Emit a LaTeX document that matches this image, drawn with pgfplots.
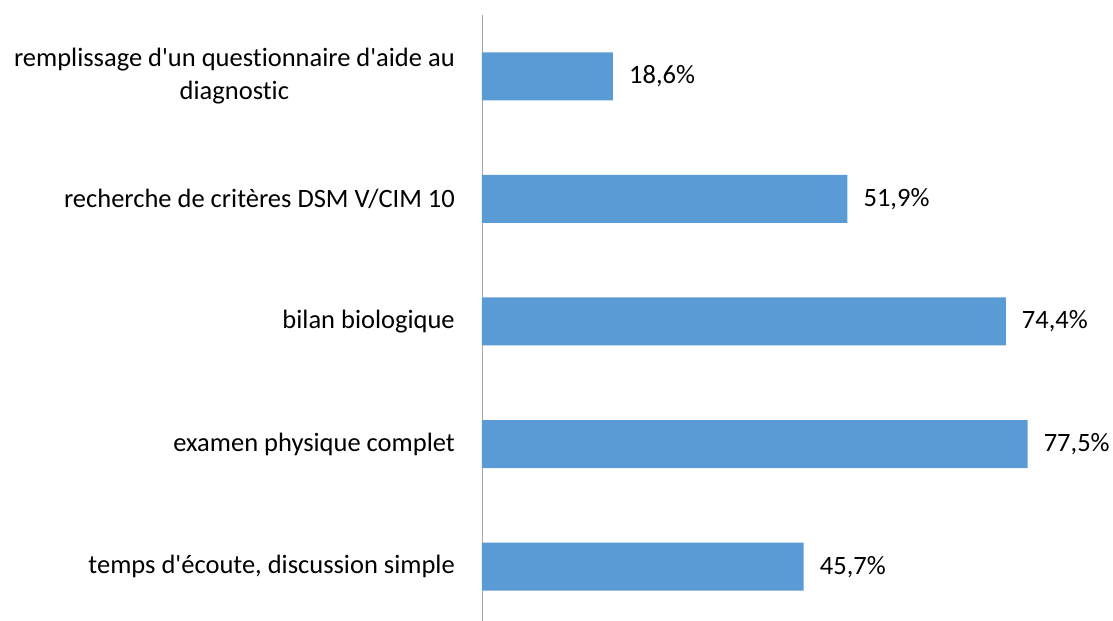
\documentclass[border=0pt]{standalone}
\usepackage{pgfplots}
\pgfplotsset{compat=1.18}
\usepackage{fontspec}
\setmainfont{Carlito}[Ligatures={TeXOff,NoCommon}]
\definecolor{barblue}{HTML}{5B9BD5}
\definecolor{axgray}{HTML}{A6A6A6}
\begin{document}
\begin{tikzpicture}
\useasboundingbox (-482bp,7bp) rectangle (631bp,628bp);
\begin{axis}[
  at={(0,0)}, anchor=south west,
  scale only axis,
  width=633.6bp, height=613bp,
  xbar, bar width=48bp,
  xmin=0, xmax=90,
  ymin=-0.5, ymax=4.5,
  axis y line*=left,
  axis x line=none,
  y axis line style={draw=axgray, line width=0.8bp},
  ytick={0,1,2,3,4},
  yticklabels={{temps d'écoute, discussion simple},{examen physique complet},{bilan biologique},{recherche de critères DSM V/CIM 10},{remplissage d'un questionnaire d'aide au\\diagnostic}},
  major tick length=0pt,
  y tick label style={anchor=east, align=center, inner sep=0pt, xshift=-27bp, font=\fontsize{26.6}{33}\selectfont},
  nodes near coords={\pgfmathprintnumber[fixed, fixed zerofill, precision=1, use comma, assume math mode=true]{\pgfplotspointmeta}\%},
  nodes near coords style={anchor=west, inner sep=0pt, xshift=16bp, font=\fontsize{26.6}{33}\selectfont, text=black},
  point meta=x,
]
\addplot[fill=barblue, draw=none] coordinates {(45.7,0) (77.5,1) (74.4,2) (51.9,3) (18.6,4)};
\end{axis}
\end{tikzpicture}
\end{document}
